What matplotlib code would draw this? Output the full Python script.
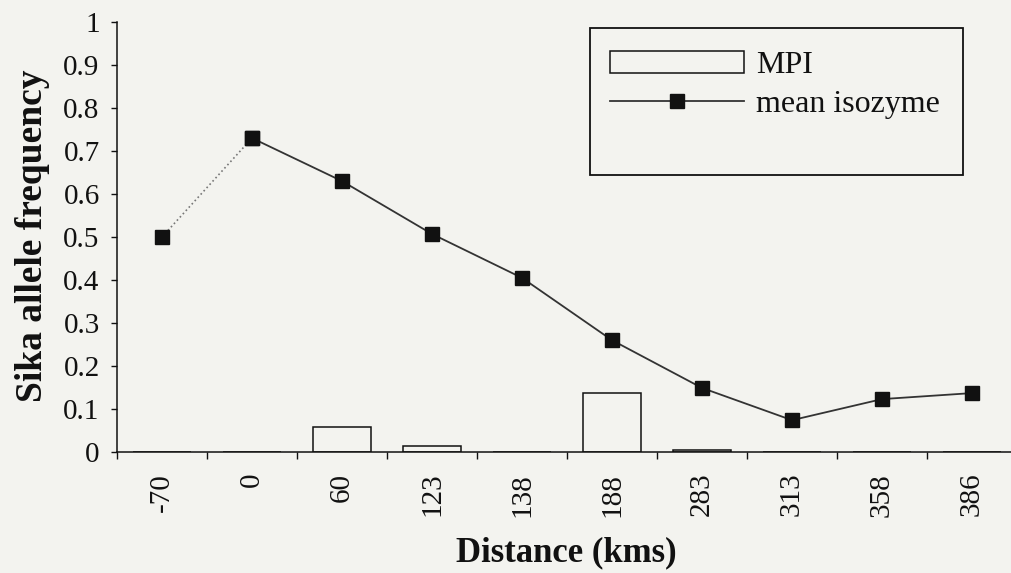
import matplotlib
matplotlib.use('Agg')
import matplotlib.pyplot as plt
import matplotlib.ticker as ticker
from matplotlib.patches import Rectangle
import numpy as np

# sampling sites along the transect (km)
distances = ['-70', '0', '60', '123', '138', '188', '283', '313', '358', '386']
# MPI sika allele frequency
mpi = [0, 0, 0.058, 0.014, 0, 0.137, 0.005, 0, 0, 0]
# mean sika allele frequency over the isozyme loci
isozyme = [0.50, 0.73, 0.63, 0.507, 0.405, 0.26, 0.149, 0.074, 0.123, 0.137]

paper = '#f3f3ef'
ink = '#111111'
plt.rcParams['font.family'] = ['Liberation Serif', 'DejaVu Serif']

fig = plt.figure(figsize=(10.11, 5.73), dpi=100, facecolor=paper)
W, H = 1011., 573.
ax = fig.add_axes([117/W, 1 - 452/H, 1 - 117/W, (452 - 22)/H])
ax.set_facecolor(paper)

x = np.arange(len(distances))
bars = ax.bar(x, mpi, width=0.65, facecolor='none', edgecolor=ink, linewidth=1.1,
              label='MPI', zorder=2)

ax.plot(x[:2], isozyme[:2], ls=':', color='#777777', lw=1.2,
        marker='s', ms=9.5, mfc=ink, mec=ink, zorder=3)
line, = ax.plot(x[1:], isozyme[1:], ls='-', color='#333333', lw=1.3,
                marker='s', ms=9.5, mfc=ink, mec=ink, label='mean isozyme', zorder=3)

ax.set_xlim(-0.5, (1011 - 162) / 90.)
ax.set_ylim(0, 1)

for s in ['top', 'right']:
    ax.spines[s].set_visible(False)
for s in ['left', 'bottom']:
    ax.spines[s].set_linewidth(1.1)
    ax.spines[s].set_color(ink)

ax.yaxis.set_major_locator(ticker.MultipleLocator(0.1))
ax.yaxis.set_major_formatter(ticker.FuncFormatter(
    lambda v, p: '0' if abs(v) < 1e-9 else ('1' if abs(v - 1) < 1e-9 else '%.1f' % v)))
ax.tick_params(axis='y', direction='out', length=4.5, width=1, color=ink,
               labelsize=21, labelcolor=ink, pad=8)

ax.set_xticks(x)
ax.set_xticklabels(distances, rotation=90, fontsize=21, color=ink)
ax.xaxis.set_minor_locator(ticker.FixedLocator(np.arange(-0.5, 10, 1)))
ax.tick_params(axis='x', which='major', length=0, pad=15)
ax.tick_params(axis='x', which='minor', direction='out', length=5, width=1, color=ink)

fig.text(33/W, 1 - 236/H, 'Sika allele frequency', rotation=90, ha='center',
         va='center', fontsize=27, fontweight='bold', color=ink)
fig.text(566/W, 1 - 553/H, 'Distance (kms)', ha='center', va='center',
         fontsize=25, fontweight='bold', color=ink)

# legend with a plain square frame
fig.patches.append(Rectangle((590/W, 1 - 175/H), 373/W, 147/H, transform=fig.transFigure,
                             facecolor='none', edgecolor=ink, linewidth=1.3))
ax.legend([bars, line], ['MPI', 'mean isozyme'], loc='upper left',
          bbox_to_anchor=(610/W, 1 - 51/H),
          bbox_transform=fig.transFigure, frameon=False, fontsize=23,
          handlelength=4.2, handleheight=0.66, handletextpad=0.38,
          labelspacing=0.31, borderpad=0, borderaxespad=0, labelcolor=ink)

fig.savefig('out.png', dpi=100, facecolor=paper)
